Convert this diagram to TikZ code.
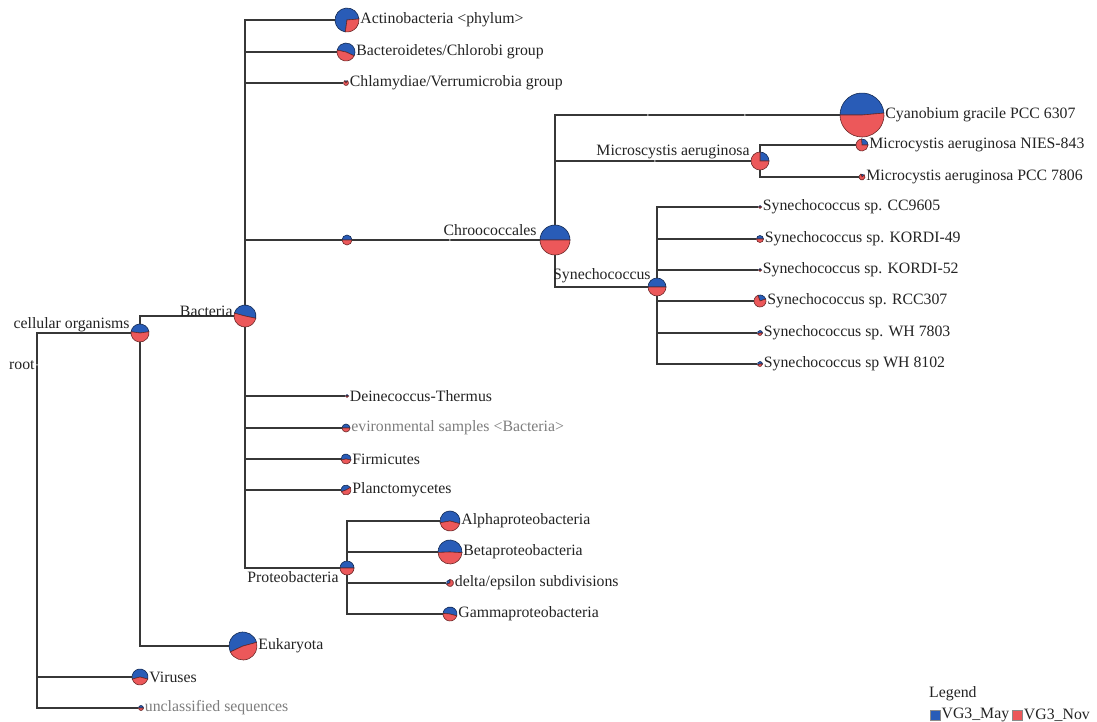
\documentclass[tikz,border=0pt]{standalone}
\usepackage{fontspec}
\setmainfont{Liberation Serif}
\usepackage{tikz}
\usetikzlibrary{positioning}
\definecolor{cmay}  {RGB}{41, 92,183}
\definecolor{cnov}  {RGB}{236,88, 90}
\definecolor{cline} {RGB}{55, 55, 55}
\definecolor{ctext} {RGB}{35, 35, 35}
\definecolor{cgrey} {RGB}{125,125,125}
\tikzset{
  pienode/.style={circle, inner sep=0pt, minimum size=#1},
  edge/.style={draw=cline, line width=1.2pt},
  lbl/.style={font=\fontsize{15.8}{18}\selectfont, text=ctext, inner sep=1pt},
  tick/.style={circle, fill=cline, inner sep=0pt, minimum size=2pt},
  sq/.style={rectangle, inner sep=0pt, minimum size=10pt, draw=black!45},
}
% pie: name, position, radius, start and end angle of the VG3_May slice
\newcommand\pie[5]{%
  \node[pienode={2*#3pt}] (#1) at (#2) {};
  \filldraw[fill=cmay, draw=cmay!45!black, line width=0.6pt]
    (#1.center) -- ++(#4:#3pt) arc[start angle=#4, end angle=#5, radius=#3pt] -- cycle;
  \filldraw[fill=cnov, draw=cnov!45!black, line width=0.6pt]
    (#1.center) -- ++(#5:#3pt) arc[start angle=#5, end angle=#4+360, radius=#3pt] -- cycle;
}

\begin{document}
\begin{tikzpicture}[x=1pt, y=-1pt]
  \useasboundingbox (0,0) rectangle (1097,722);

  % ── Root + ticks ───────────────────────────────────────────────────────────
  \node[tick] (root) at (37,365) {};
  \node[tick] (tk0) at (450,240) {};
  \node[tick] (tk1) at (648,115) {};
  \node[tick] (tk2) at (745,115) {};
  \node[tick] (tk3) at (655,161) {};

  % ── Top level ──────────────────────────────────────────────────────────────
  \pie{cell}{140,333}{9}{8}{172}
  \pie{virus}{140,677}{8}{-15}{195}
  \pie{uncl}{141,708}{2.5}{0}{180}
  \pie{euk}{243,646}{14}{15}{205}
  \pie{bact}{245,316}{11}{-12}{165}

  % ── Bacteria ───────────────────────────────────────────────────────────────
  \pie{actino}{347,20}{12}{5}{262}
  \pie{bactero}{346,52}{9}{-25}{168}
  \pie{chlamy}{346,83}{2.5}{60}{120}
  \pie{unk}{347,240}{5}{0}{180}
  \pie{deino}{347,396}{1.5}{0}{180}
  \pie{envir}{346,428}{4}{0}{180}
  \pie{firmi}{346,459}{5}{-10}{190}
  \pie{plancto}{346,490}{5}{30}{200}
  \pie{proteo}{347,568}{7}{0}{180}
  \pie{alpha}{450,521}{10}{-15}{190}
  \pie{beta}{450,552}{12}{-3}{182}
  \pie{delta}{450,583}{3.5}{90}{200}
  \pie{gamma}{450,614}{7}{-15}{175}

  % ── Chroococcales ──────────────────────────────────────────────────────────
  \pie{chroo}{555,240}{15}{0}{180}
  \pie{cyano}{862,115}{22}{5}{180}
  \pie{micro}{760,161}{9}{0}{90}
  \pie{nies}{862,145}{6}{0}{95}
  \pie{pcc}{862,177}{3}{40}{110}
  \pie{syn}{657,287}{9}{0}{180}
  \pie{cc}{760,207}{1.5}{0}{180}
  \pie{kordia}{760,239}{3.5}{0}{180}
  \pie{kordib}{760,270}{1.5}{0}{180}
  \pie{rcc}{760,301}{6}{20}{110}
  \pie{wha}{760,333}{2.5}{0}{200}
  \pie{whb}{760,364}{2.5}{0}{200}

  % ── Edges ──────────────────────────────────────────────────────────────────
  \draw[edge] (root) |- (cell);
  \draw[edge] (root) |- (virus);
  \draw[edge] (root) |- (uncl);
  \draw[edge] (cell) |- (bact);
  \draw[edge] (cell) |- (euk);
  \foreach \c in {actino, bactero, chlamy, unk, deino, envir, firmi, plancto, proteo}
    \draw[edge] (bact) |- (\c);
  \foreach \c in {alpha, beta, delta, gamma}
    \draw[edge] (proteo) |- (\c);
  \draw[edge] (unk) -- (tk0) -- (chroo);
  \draw[edge] (chroo) |- (tk1) -- (tk2) -- (cyano);
  \draw[edge] (chroo) |- (tk3) -- (micro);
  \draw[edge] (chroo) |- (syn);
  \draw[edge] (micro) |- (nies);
  \draw[edge] (micro) |- (pcc);
  \foreach \c in {cc, kordia, kordib, rcc, wha, whb}
    \draw[edge] (syn) |- (\c);

  % ── Labels ─────────────────────────────────────────────────────────────────
  \node[lbl, anchor=east] (rootlbl) at (root.west) {root};
  \node[lbl, anchor=east] (celllbl) at ([yshift=8pt]cell.west) {cellular organisms};
  \node[lbl, anchor=east] (bactlbl) at ([yshift=5pt]bact.west) {Bacteria};
  \node[lbl, anchor=east] (chroolbl) at ([yshift=10pt, xshift=-2pt]chroo.west) {Chroococcales};
  \node[lbl, anchor=east] (microlbl) at ([yshift=9pt]micro.west) {Microscystis aeruginosa};
  \node[lbl, anchor=east] (synlbl) at ([yshift=11pt, xshift=4pt]syn.west) {Synechococcus};
  \node[lbl, anchor=east] (proteolbl) at ([yshift=-9pt]proteo.west) {Proteobacteria};

  \node[lbl, anchor=west] (actinolbl) at (actino.east) {Actinobacteria <phylum>};
  \node[lbl, anchor=west] (bacterolbl) at (bactero.east) {Bacteroidetes/Chlorobi group};
  \node[lbl, anchor=west] (chlamylbl) at (chlamy.east) {Chlamydiae/Verrumicrobia group};
  \node[lbl, anchor=west] (deinolbl) at (deino.east) {Deinecoccus-Thermus};
  \node[lbl, anchor=west, text=cgrey] (envirlbl) at (envir.east) {evironmental samples <Bacteria>};
  \node[lbl, anchor=west] (firmilbl) at (firmi.east) {Firmicutes};
  \node[lbl, anchor=west] (planctolbl) at (plancto.east) {Planctomycetes};
  \node[lbl, anchor=west] (alphalbl) at (alpha.east) {Alphaproteobacteria};
  \node[lbl, anchor=west] (betalbl) at (beta.east) {Betaproteobacteria};
  \node[lbl, anchor=west] (deltalbl) at (delta.east) {delta/epsilon subdivisions};
  \node[lbl, anchor=west] (gammalbl) at (gamma.east) {Gammaproteobacteria};
  \node[lbl, anchor=west] (euklbl) at (euk.east) {Eukaryota};
  \node[lbl, anchor=west] (viruslbl) at (virus.east) {Viruses};
  \node[lbl, anchor=west, text=cgrey] (uncllbl) at (uncl.east) {unclassified sequences};
  \node[lbl, anchor=west] (cyanolbl) at (cyano.east) {Cyanobium gracile PCC 6307};
  \node[lbl, anchor=west] (nieslbl) at (nies.east) {Microcystis aeruginosa NIES-843};
  \node[lbl, anchor=west] (pcclbl) at (pcc.east) {Microcystis aeruginosa PCC 7806};
  \node[lbl, anchor=west] (cclbl) at (cc.east) {Synechococcus sp. CC9605};
  \node[lbl, anchor=west] (kordialbl) at (kordia.east) {Synechococcus sp. KORDI-49};
  \node[lbl, anchor=west] (kordiblbl) at (kordib.east) {Synechococcus sp. KORDI-52};
  \node[lbl, anchor=west] (rcclbl) at (rcc.east) {Synechococcus sp. RCC307};
  \node[lbl, anchor=west] (whalbl) at (wha.east) {Synechococcus sp. WH 7803};
  \node[lbl, anchor=west] (whblbl) at (whb.east) {Synechococcus sp WH 8102};

  % ── Legend ─────────────────────────────────────────────────────────────────
  \node[lbl, anchor=west] (legend) at (928,694) {Legend};
  \node[sq, fill=cmay, anchor=west] (sqmay) at (930,715) {};
  \node[lbl, anchor=west] (maylbl) at (sqmay.east) {VG3\_May};
  \node[sq, fill=cnov, right=2pt of maylbl] (sqnov) {};
  \node[lbl, anchor=west] (novlbl) at (sqnov.east) {VG3\_Nov};
\end{tikzpicture}
\end{document}
